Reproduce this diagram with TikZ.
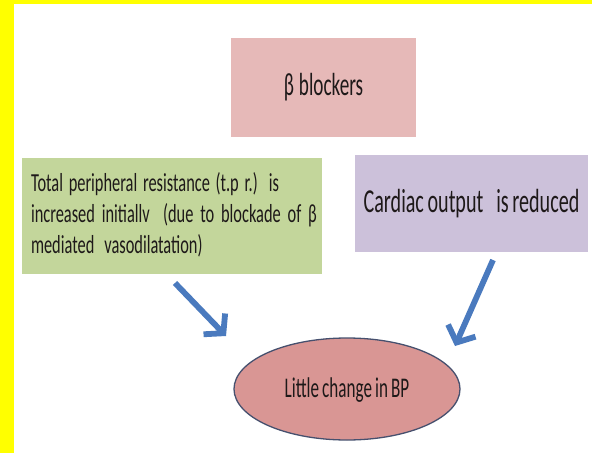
\documentclass[tikz,border=0pt]{standalone}
\usepackage{fontspec}
\setmainfont{Carlito}
\newfontfamily\condfont[FakeStretch=0.6,WordSpace=0.8]{Carlito}
\newfontfamily\greenfont[FakeStretch=0.63]{Carlito}
\usetikzlibrary{shapes.geometric,arrows.meta}
\definecolor{pinkbox}{RGB}{230,185,184}
\definecolor{greenbox}{RGB}{195,214,155}
\definecolor{purplebox}{RGB}{204,193,218}
\definecolor{ellfill}{RGB}{217,150,148}
\definecolor{ellline}{RGB}{70,80,110}
\definecolor{arrowblue}{RGB}{74,122,190}
\definecolor{txt}{RGB}{30,25,25}
\definecolor{marker}{RGB}{255,255,0}
\tikzset{
  box/.style={rectangle, inner sep=0pt, text=txt, font=\condfont},
  bigarrow/.style={draw=arrowblue, line width=5.8pt, -{Straight Barb[length=13pt,width=30pt]}},
}
\begin{document}
\begin{tikzpicture}[x=1pt,y=-1pt]
\useasboundingbox (0,0) rectangle (592,453);
\fill[white] (0,0) rectangle (592,453);
\fill[marker] (0,0) rectangle (14,453);
\fill[marker] (0,0) rectangle (592,4);

\node[box, fill=pinkbox, minimum width=185pt, minimum height=99pt, font=\condfont\fontsize{32}{36}\selectfont] (beta) at (323.5,87.5) {\raisebox{2pt}{β\hspace{5pt}blockers}};

\node[box, fill=greenbox, minimum width=300pt, minimum height=116pt, font=\greenfont\fontsize{26}{31}\selectfont] (tpr) at (172,216) {\raisebox{3pt}{\makebox[282pt][l]{\begin{tabular}{@{}l@{}}\makebox[248pt][s]{Total peripheral resistance (t.p r.) is}\\\makebox[286pt][s]{increased initiallv\hspace{3pt plus 2pt} (due to blockade of β}\\mediated\hspace{10pt}vasodilatation)\end{tabular}}}};

\node[box, fill=purplebox, minimum width=233pt, minimum height=97pt, font=\condfont\fontsize{33.5}{40}\selectfont] (co) at (471.5,203.5) {\raisebox{-5pt}{Cardiac output\hspace{13pt}is reduced}};

\node[ellipse, draw=ellline, line width=1.3pt, fill=ellfill, minimum width=226pt, minimum height=102pt, inner sep=0pt] (bp) at (347,389) {};
\node[text=txt, font=\condfont\fontsize{28.5}{33}\selectfont, inner sep=0pt] (bptext) at (347,390) {Little change in BP};

\coordinate (a1s) at (175,283);
\coordinate (a1e) at (226,336);
\coordinate (a2s) at (493,260);
\coordinate (a2e) at (455,346);
\draw[bigarrow] (a1s) -- (a1e);
\draw[bigarrow] (a2s) -- (a2e);
\end{tikzpicture}
\end{document}
